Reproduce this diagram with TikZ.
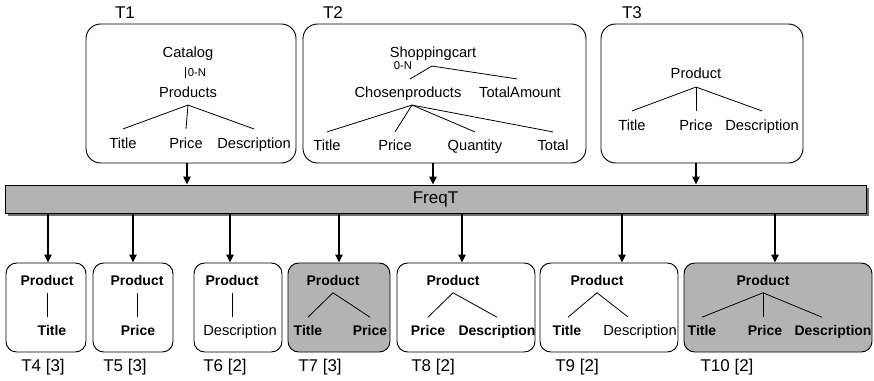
\documentclass[tikz,border=0pt]{standalone}
\usepackage{fontspec}
\setmainfont{Liberation Sans}
\usetikzlibrary{fit,arrows.meta,calc}
\definecolor{boxgray}{HTML}{B3B3B3}
\definecolor{shadowgray}{HTML}{6E6E6E}
\begin{document}
\begin{tikzpicture}[x=0.75pt,y=-0.75pt,
  bigbox/.style={draw, rounded corners=11pt, line width=0.7pt, inner sep=0pt},
  smallbox/.style={draw, rounded corners=8pt, line width=0.7pt, inner sep=0pt},
  filledbox/.style={smallbox, fill=boxgray},
  tx/.style={font=\fontsize{11}{13}\selectfont, inner sep=0pt, text height=7.9pt, text depth=2.3pt},
  bx/.style={font=\fontsize{10.5}{12}\selectfont\bfseries, inner sep=0pt, text height=7.6pt, text depth=2.2pt},
  small/.style={font=\fontsize{8.5}{10}\selectfont, inner sep=0pt},
  lbl/.style={font=\fontsize{12.75}{15}\selectfont, inner sep=0pt},
  tree/.style={line width=0.6pt},
  arr/.style={line width=1.1pt, -{Triangle[length=6pt,width=5.5pt]}}
]
\useasboundingbox (0,0) rectangle (874,381);

% ---------- top boxes ----------
\node[bigbox, fit={(86,24) (296,163)}] (T1box) {};
\node[bigbox, fit={(303,24) (586,163)}] (T2box) {};
\node[bigbox, fit={(601,24) (803,163)}] (T3box) {};
\node[lbl] (T1lab) at (125,13) {T1};
\node[lbl] (T2lab) at (333,13) {T2};
\node[lbl] (T3lab) at (632,13) {T3};

% T1 tree
\node[tx] (cat) at (188,54) {Catalog};
\node[tx] (prods) at (188,94) {Products};
\node[small] (zn1) at (197,73) {0-N};
\node[tx] (t1a) at (123,145) {Title};
\node[tx] (t1b) at (186,145) {Price};
\node[tx] (t1c) at (254,145) {Description};
\draw[tree] ($(cat.south)+(-3,6)$) -- ($(prods.north)+(-3,-9)$);
\foreach \c in {t1a,t1b,t1c}
  \draw[tree] ($(prods.south)+(0,4)$) -- ($(\c.north)+(0,-9)$);

% T2 tree
\node[tx] (shop) at (433,54) {Shoppingcart};
\node[small] (zn2) at (403,66) {0-N};
\node[tx] (chosen) at (408,94) {Chosenproducts};
\node[tx] (total) at (520,94) {TotalAmount};
\node[tx] (t2a) at (327,147) {Title};
\node[tx] (t2b) at (395,147) {Price};
\node[tx] (t2c) at (475,147) {Quantity};
\node[tx] (t2d) at (553,147) {Total};
\draw[tree] ($(shop.south)+(-1,5)$) -- ($(chosen.north)+(2,-8)$);
\draw[tree] ($(shop.south)+(-1,5)$) -- ($(total.north)+(-3,-8)$);
\foreach \c in {t2a,t2b,t2c,t2d}
  \draw[tree] ($(chosen.south)+(4,4)$) -- ($(\c.north)+(0,-8)$);

% T3 tree
\node[tx] (prod3) at (696,75) {Product};
\node[tx] (t3a) at (632,127) {Title};
\node[tx] (t3b) at (696,127) {Price};
\node[tx] (t3c) at (762,127) {Description};
\foreach \c in {t3a,t3b,t3c}
  \draw[tree] ($(prod3.south)+(0,5)$) -- ($(\c.north)+(0,-9)$);

% ---------- FreqT bar ----------
\fill[shadowgray] (8,188) rectangle (869,216);
\node[draw, fill=boxgray, line width=0.7pt, inner sep=0pt, fit={(5,185) (866,213)}] (freq) {};
\node[lbl] (freqtxt) at (freq.center) {FreqT};

\draw[arr] (T1box.south -| 187,0) -- (freq.north -| 187,0);
\draw[arr] (T2box.south -| 433,0) -- (freq.north -| 433,0);
\draw[arr] (T3box.south -| 696,0) -- (freq.north -| 696,0);

% ---------- bottom boxes ----------
\node[smallbox, fit={(6,263) (86,352)}] (b4) {};
\node[smallbox, fit={(93,263) (173,352)}] (b5) {};
\node[smallbox, fit={(194,263) (282,352)}] (b6) {};
\node[filledbox, fit={(288,263) (390,352)}] (b7) {};
\node[smallbox, fit={(397,263) (535,352)}] (b8) {};
\node[smallbox, fit={(540,263) (678,352)}] (b9) {};
\node[filledbox, fit={(684,263) (872,352)}] (b10) {};

\foreach \x/\b in {48/b4,133/b5,230/b6,339/b7,462/b8,622/b9,775/b10}
  \draw[arr] (freq.south -| \x,0) -- (\b.north -| \x,0);

% T4
\node[bx] (p4) at (47,282) {Product};
\node[bx] (c4) at (52,332) {Title};
\draw[tree] ($(p4.south)+(0,4)$) -- ($(p4.south |- c4.north)+(0,-8)$);
% T5
\node[bx] (p5) at (137,282) {Product};
\node[bx] (c5) at (138,332) {Price};
\draw[tree] ($(p5.south)+(0,4)$) -- ($(p5.south |- c5.north)+(0,-8)$);
% T6
\node[bx] (p6) at (232,282) {Product};
\node[tx] (c6) at (240,332) {Description};
\draw[tree] ($(p6.south)+(0,4)$) -- ($(p6.south |- c6.north)+(0,-8)$);
% T7
\node[bx] (p7) at (333,282) {Product};
\node[bx] (c7a) at (308,332) {Title};
\node[bx] (c7b) at (370,332) {Price};
\foreach \c in {c7a,c7b}
  \draw[tree] ($(p7.south)+(0,4)$) -- ($(\c.north)+(0,-8)$);
% T8
\node[bx] (p8) at (453,282) {Product};
\node[bx] (c8a) at (428,332) {Price};
\node[bx] (c8b) at (497,332) {Description};
\foreach \c in {c8a,c8b}
  \draw[tree] ($(p8.south)+(0,4)$) -- ($(\c.north)+(0,-8)$);
% T9
\node[bx] (p9) at (597,282) {Product};
\node[bx] (c9a) at (567,332) {Title};
\node[tx] (c9b) at (640,332) {Description};
\draw[tree] ($(p9.south)+(0,4)$) -- ($(c9a.north)+(1,-8)$);
\draw[tree] ($(p9.south)+(0,4)$) -- ($(c9b.north)+(-12,-8)$);
% T10
\node[bx] (p10) at (763,282) {Product};
\node[bx] (c10a) at (702,332) {Title};
\node[bx] (c10b) at (765,332) {Price};
\node[bx] (c10c) at (833,332) {Description};
\draw[tree] ($(p10.south)+(0,4)$) -- ($(c10a.north)+(0,-8)$);
\draw[tree] ($(p10.south)+(0,4)$) -- ($(p10.south |- c10b.north)+(0,-8)$);
\draw[tree] ($(p10.south)+(0,4)$) -- ($(c10c.north)+(-11,-8)$);

% labels
\node[lbl] (l4) at (43,367) {T4 [3]};
\node[lbl] (l5) at (125,367) {T5 [3]};
\node[lbl] (l6) at (225,367) {T6 [2]};
\node[lbl] (l7) at (320,367) {T7 [3]};
\node[lbl] (l8) at (433,367) {T8 [2]};
\node[lbl] (l9) at (577,367) {T9 [2]};
\node[lbl] (l10) at (727,367) {T10 [2]};
\end{tikzpicture}
\end{document}
